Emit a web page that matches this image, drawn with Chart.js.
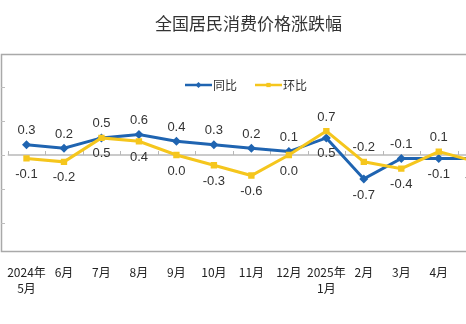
<!DOCTYPE html>
<html>
<head>
<meta charset="utf-8">
<script src="https://cdn.jsdelivr.net/npm/chart.js@4.4.1/dist/chart.umd.min.js"></script>
<style>
  html, body { margin: 0; padding: 0; background: #fff; overflow: hidden; }
  #wrap { width: 502px; height: 324px; }
</style>
</head>
<body>
<div id="wrap"><canvas id="cpi" width="502" height="324"></canvas></div>
<script>
// 全国居民消费价格涨跌幅 (%)
const months = [['2024年', '5月'], '6月', '7月', '8月', '9月', '10月', '11月', '12月', ['2025年', '1月'], '2月', '3月', '4月', '5月'];
const yoy = [0.3, 0.2, 0.5, 0.6, 0.4, 0.3, 0.2, 0.1, 0.5, -0.7, -0.1, -0.1, -0.1];
const mom = [-0.1, -0.2, 0.5, 0.4, 0.0, -0.3, -0.6, 0.0, 0.7, -0.2, -0.4, 0.1, -0.2];
const yTicks = [-2, -1, 0, 1, 2];

// where each value label sits relative to its point
const yoyLabelPos = ['up', 'up', 'up', 'up', 'up', 'up', 'up', 'up', 'down', 'down', 'up', 'down', 'right'];
const momLabelPos = ['down', 'down', 'down', 'down', 'down', 'down', 'down', 'down', 'up', 'up', 'down', 'up', 'down'];

const COLOR_YOY = '#1f64b1';
const COLOR_MOM = '#f5c61d';
const CJK = "'Noto Sans CJK SC', 'Noto Sans', sans-serif";
const LATIN = "'Liberation Sans', Arial, sans-serif";

// gray frame, zero line and small tick marks
const framePlugin = {
  id: 'frame',
  beforeDraw(chart) {
    const { ctx, chartArea, scales: { x, y } } = chart;
    ctx.save();
    ctx.strokeStyle = '#a9a9a9';
    ctx.lineWidth = 1.5;
    ctx.strokeRect(1.5, 54.5, chart.width + 10, 197);

    ctx.strokeStyle = '#bdbdbd';
    ctx.lineWidth = 1;
    yTicks.forEach(v => {
      const py = Math.round(y.getPixelForValue(v)) + 0.5;
      ctx.beginPath();
      ctx.moveTo(1, py);
      ctx.lineTo(5, py);
      ctx.stroke();
    });

    const zy = y.getPixelForValue(0);
    ctx.strokeStyle = '#b8b8b8';
    ctx.lineWidth = 1.5;
    ctx.beginPath();
    ctx.moveTo(chartArea.left, zy);
    ctx.lineTo(chartArea.right, zy);
    ctx.stroke();
    ctx.lineWidth = 1;
    for (let i = 0; i <= months.length; i++) {
      const px = Math.round(x.getPixelForValue(i - 0.5)) + 0.5;
      ctx.beginPath();
      ctx.moveTo(px, zy);
      ctx.lineTo(px, zy - 4);
      ctx.stroke();
    }
    ctx.restore();
  }
};

// value labels next to every point
const labelPlugin = {
  id: 'valueLabels',
  afterDatasetsDraw(chart) {
    const ctx = chart.ctx;
    ctx.save();
    ctx.font = `13px ${LATIN}`;
    ctx.fillStyle = '#333';
    ctx.textAlign = 'center';
    ctx.textBaseline = 'middle';
    chart.data.datasets.forEach((ds, di) => {
      chart.getDatasetMeta(di).data.forEach((pt, i) => {
        let tx = pt.x, ty = pt.y;
        const pos = ds.labelPos[i];
        if (pos === 'up') ty -= 14;
        else if (pos === 'down') ty += 16;
        else tx += 22;
        ctx.fillText(ds.data[i].toFixed(1), tx, ty);
      });
    });
    ctx.restore();
  }
};

// Excel-like legend: line with marker in the middle
const legendPlugin = {
  id: 'lineLegend',
  afterDraw(chart) {
    const ctx = chart.ctx;
    const cy = 85;
    let lx = chart.width / 2 - 66;
    ctx.save();
    ctx.font = `12px ${CJK}`;
    ctx.textBaseline = 'middle';
    chart.data.datasets.forEach(ds => {
      ctx.strokeStyle = ds.borderColor;
      ctx.lineWidth = 2.5;
      ctx.beginPath();
      ctx.moveTo(lx, cy);
      ctx.lineTo(lx + 27, cy);
      ctx.stroke();
      ctx.fillStyle = ds.borderColor;
      Chart.helpers.drawPoint(ctx, { pointStyle: ds.pointStyle, radius: 3, rotation: 0, borderWidth: 0 }, lx + 13.5, cy);
      ctx.fillStyle = '#333';
      ctx.fillText(ds.label, lx + 28, cy);
      lx += 70;
    });
    ctx.restore();
  }
};

new Chart(document.getElementById('cpi'), {
  type: 'line',
  data: {
    labels: months,
    datasets: [{
      label: '同比',
      data: yoy,
      labelPos: yoyLabelPos,
      borderColor: COLOR_YOY,
      backgroundColor: COLOR_YOY,
      borderWidth: 3,
      pointStyle: 'rectRot',
      pointRadius: 4.5,
      pointBorderWidth: 0,
      order: 1
    }, {
      label: '环比',
      data: mom,
      labelPos: momLabelPos,
      borderColor: COLOR_MOM,
      backgroundColor: COLOR_MOM,
      borderWidth: 3,
      pointStyle: 'rect',
      pointRadius: 4.5,
      pointBorderWidth: 0,
      order: 0
    }]
  },
  options: {
    responsive: false,
    animation: false,
    layout: { padding: { left: 2, right: 7, top: 0, bottom: 20 } },
    plugins: {
      legend: { display: false },
      tooltip: { enabled: false },
      title: {
        display: true,
        text: '全国居民消费价格涨跌幅',
        color: '#333',
        font: { family: CJK, size: 17, weight: 'normal', lineHeight: 1.2 },
        padding: { top: 13, bottom: 19 }
      }
    },
    scales: {
      x: {
        offset: true,
        grid: { display: false, drawTicks: false },
        border: { display: false },
        ticks: {
          color: '#222',
          font: { family: CJK, size: 12, lineHeight: 1.35 },
          padding: 7,
          maxRotation: 0,
          autoSkip: false
        }
      },
      y: { display: false, min: -3, max: 3 }
    }
  },
  plugins: [framePlugin, labelPlugin, legendPlugin]
});
</script>
</body>
</html>
